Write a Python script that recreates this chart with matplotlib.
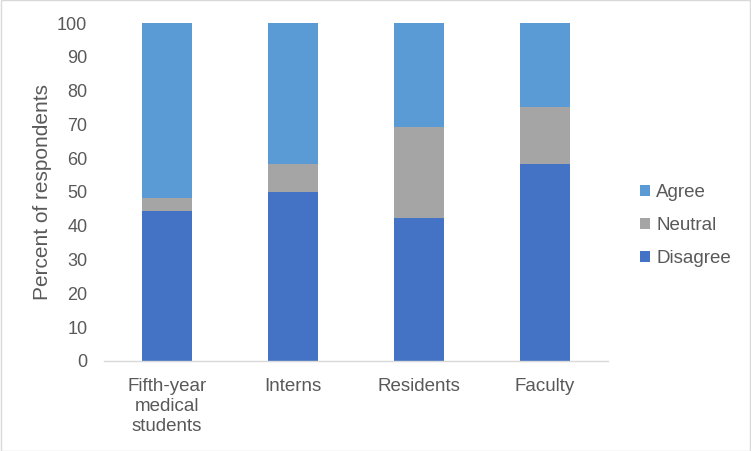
import matplotlib.pyplot as plt
import numpy as np
from matplotlib.patches import Rectangle

plt.rcParams['font.family'] = ['Liberation Sans', 'DejaVu Sans']

categories = ['Fifth-year\nmedical\nstudents', 'Interns', 'Residents', 'Faculty']
disagree = [44.4, 50.0, 42.3, 58.3]
neutral = [3.7, 8.3, 26.9, 16.7]
agree = [51.9, 41.7, 30.8, 25.0]

TEXT = '#595959'

fig = plt.figure(figsize=(7.51, 4.51), dpi=100)
ax = fig.add_axes([0.1385, 0.1996, 0.671, 0.7494])

x = np.arange(len(categories))
width = 0.4
b1 = ax.bar(x, disagree, width, color='#4472C4', label='Disagree')
b2 = ax.bar(x, neutral, width, bottom=disagree, color='#A5A5A5', label='Neutral')
bottom2 = np.array(disagree) + np.array(neutral)
b3 = ax.bar(x, agree, width, bottom=bottom2, color='#5B9BD5', label='Agree')

ax.set_xlim(-0.5, 3.5)
ax.set_ylim(0, 100)
ax.set_yticks(np.arange(0, 101, 10))
ax.set_xticks(x)
ax.set_xticklabels(categories, linespacing=1.25, fontsize=13.5)
ax.tick_params(axis='both', length=0, colors=TEXT)
ax.tick_params(axis='y', labelsize=13, pad=12)
ax.tick_params(axis='x', pad=12)
ax.set_ylabel('Percent of respondents', fontsize=15, color=TEXT, labelpad=4)

for side in ['top', 'right', 'left']:
    ax.spines[side].set_visible(False)
ax.spines['bottom'].set_color('#D9D9D9')
ax.spines['bottom'].set_linewidth(1)

leg = fig.legend([b3, b2, b1], ['Agree', 'Neutral', 'Disagree'],
                 loc='center left', bbox_to_anchor=(0.83, 0.5),
                 frameon=False, fontsize=13.5, handlelength=0.5,
                 handleheight=0.5, handletextpad=0.35, labelspacing=0.85)
for t in leg.get_texts():
    t.set_color(TEXT)

fig.patches.append(Rectangle((0.001, 0.001), 0.998, 0.998, transform=fig.transFigure,
                             fill=False, edgecolor='#D9D9D9', linewidth=1))

fig.savefig('out.png', dpi=100)
